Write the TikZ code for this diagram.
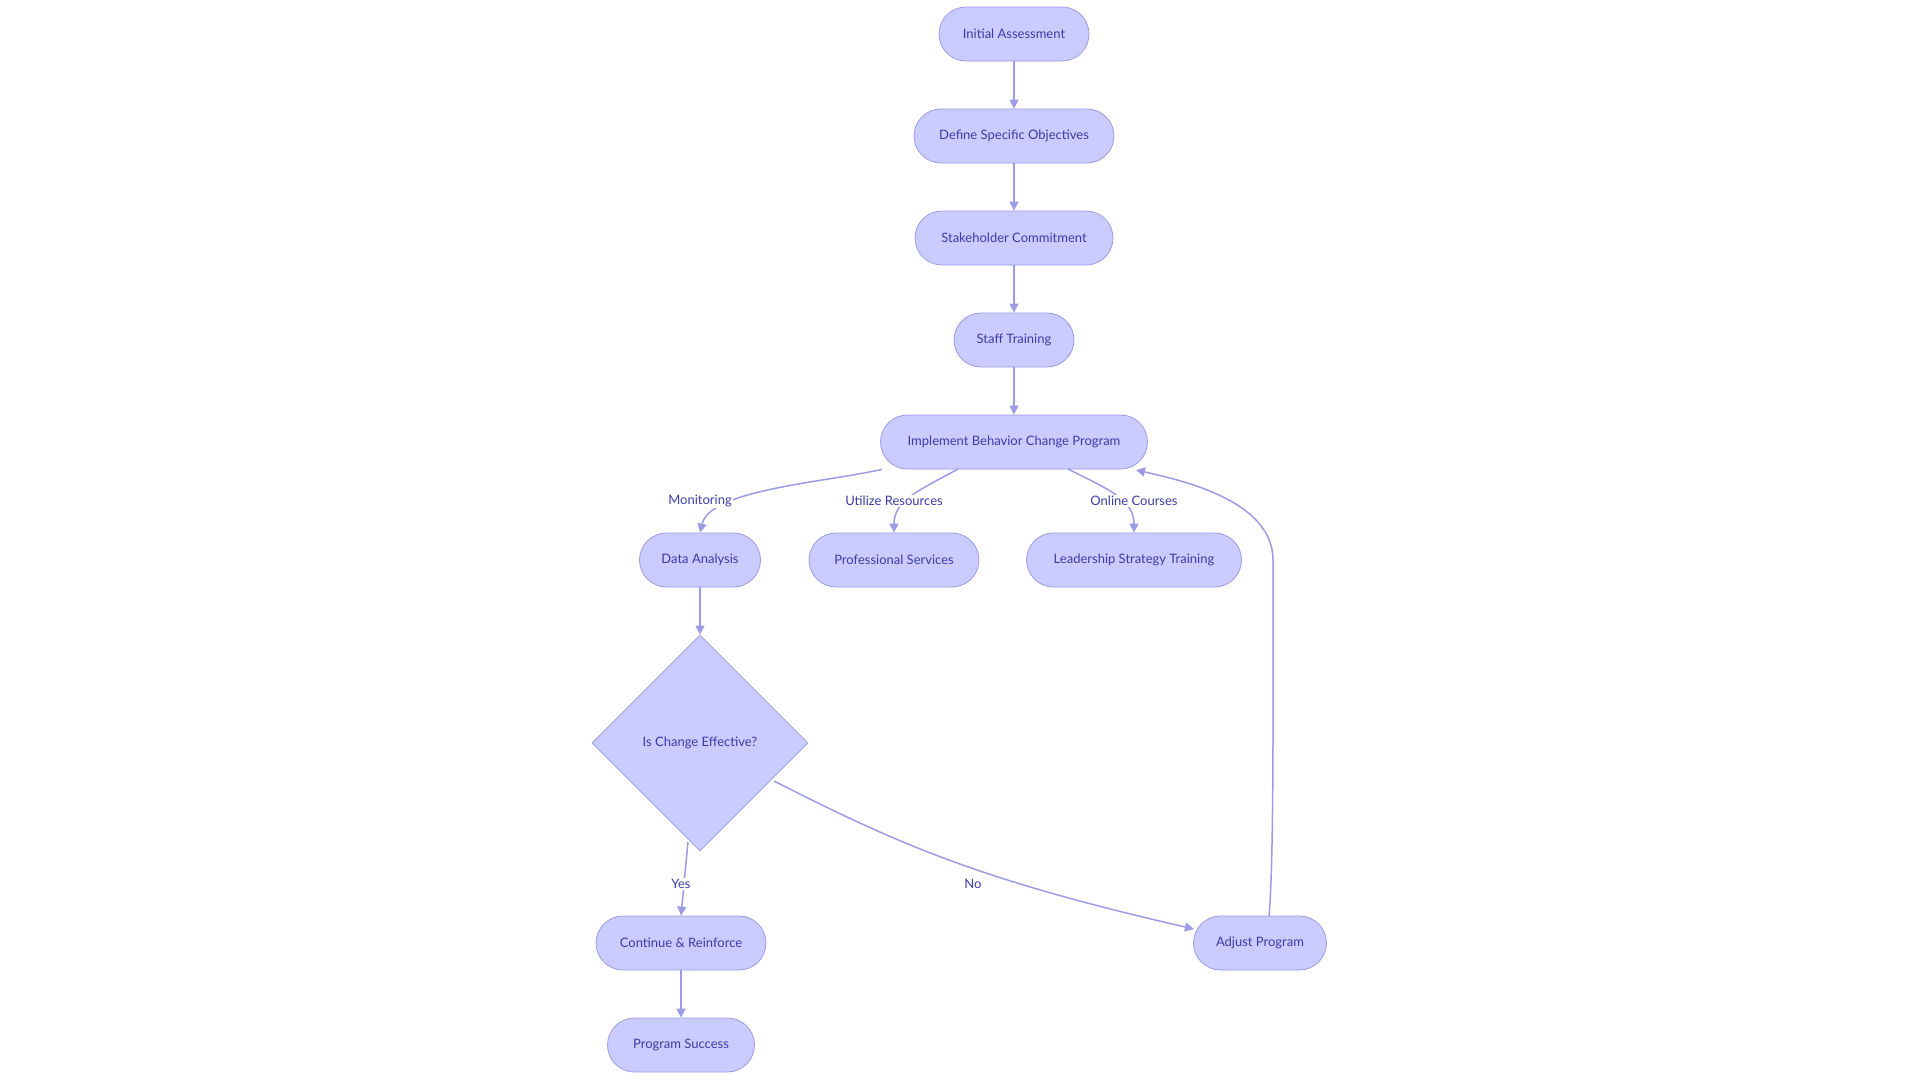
\documentclass[tikz,border=0pt]{standalone}
\usepackage{fontspec}
\setmainfont{Lato}
\usetikzlibrary{shapes.geometric,arrows.meta}
\definecolor{nfill}{HTML}{CACBFF}
\definecolor{nline}{HTML}{9C9CE6}
\definecolor{ntext}{HTML}{3C3CA8}
\begin{document}
\begin{tikzpicture}[x=1pt,y=-1pt,
 box/.style={draw=nline,fill=nfill,rounded corners=27pt,minimum height=54pt,text=ntext,font=\fontsize{13}{15}\selectfont,inner sep=0pt,line width=0.8pt},
 dia/.style={draw=nline,fill=nfill,diamond,minimum width=216pt,minimum height=216pt,text=ntext,font=\fontsize{13}{15}\selectfont,inner sep=0pt,line width=0.8pt},
 lab/.style={fill=white,text=ntext,font=\fontsize{13}{15}\selectfont,inner sep=1pt},
 ar/.style={draw=nline,line width=1.5pt,-{Triangle[length=9pt,width=9pt]}}]
\fill[white] (0,0) rectangle (1920,1080);
\node[box,minimum width=150pt] (a) at (1014,34) {Initial Assessment};
\node[box,minimum width=200pt] (b) at (1014,136) {Define Specific Objectives};
\node[box,minimum width=198pt] (c) at (1014,238) {Stakeholder Commitment};
\node[box,minimum width=120pt] (d) at (1014,340) {Staff Training};
\node[box,minimum width=267pt] (e) at (1014,442) {Implement Behavior Change Program};
\node[box,minimum width=121pt] (f) at (700,560) {Data Analysis};
\node[box,minimum width=170pt] (g) at (894,560) {Professional Services};
\node[box,minimum width=215pt] (h) at (1134,560) {Leadership Strategy Training};
\node[dia] (i) at (700,743) {Is Change Effective?};
\node[box,minimum width=170pt] (j) at (681,943) {Continue \& Reinforce};
\node[box,minimum width=133pt] (k) at (1260,943) {Adjust Program};
\node[box,minimum width=147pt] (l) at (681,1045) {Program Success};
\draw[ar] (a) -- (b);
\draw[ar] (b) -- (c);
\draw[ar] (c) -- (d);
\draw[ar] (d) -- (e);
\draw[ar] (e.south west) ++(2,0) coordinate (e1) (e1) .. controls (820,483) and (710,490) .. (f.north);
\draw[ar] (958,469) .. controls (920,490) and (894,500) .. (g.north);
\draw[ar] (1068,469) .. controls (1110,490) and (1134,500) .. (h.north);
\draw[ar] (f) -- (i);
\draw[ar] (688,842) -- (j.north);
\draw[ar] (774,781) .. controls (900,845) and (980,880) .. (1194,929);
\draw[ar] (j) -- (l);
\draw[ar] (1269,916) .. controls (1274,860) and (1273,700) .. (1273,560) .. controls (1273,500) and (1180,480) .. (1136,470);
\node[lab] (m1) at (700,501) {Monitoring};
\node[lab] (m2) at (894,501) {Utilize Resources};
\node[lab] (m3) at (1134,501) {Online Courses};
\node[lab] (m4) at (681,884) {Yes};
\node[lab] (m5) at (973,884) {No};
\end{tikzpicture}
\end{document}
